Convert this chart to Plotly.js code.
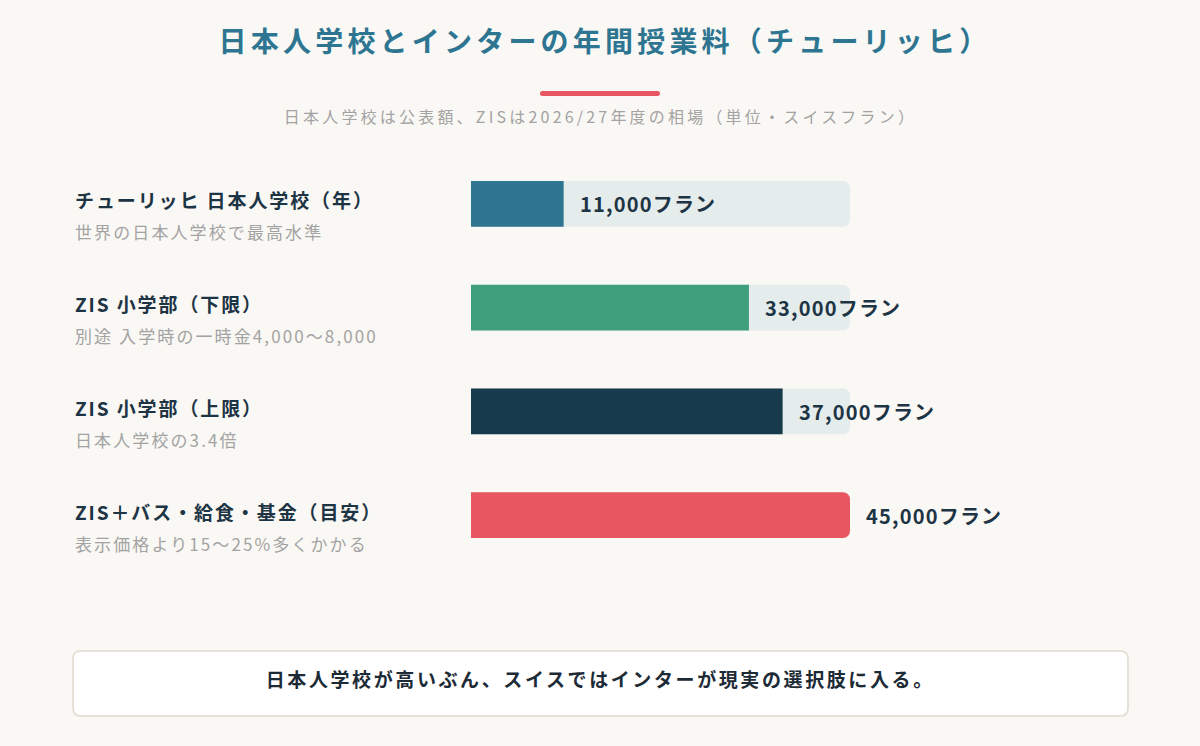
<!DOCTYPE html>
<html>
<head>
<meta charset="utf-8">
<script src="https://cdn.plot.ly/plotly-3.0.1.min.js"></script>
<style>
html,body{margin:0;padding:0;background:#faf8f4;}
#chart{width:1200px;height:746px;}
</style>
</head>
<body>
<div id="chart"></div>
<script>
// ---- data ----
const categories = ['チューリッヒ 日本人学校（年）', 'ZIS 小学部（下限）', 'ZIS 小学部（上限）', 'ZIS＋バス・給食・基金（目安）'];
const notes = ['世界の日本人学校で最高水準', '別途 入学時の一時金4,000〜8,000', '日本人学校の3.4倍', '表示価格より15〜25%多くかかる'];
const values = [11000, 33000, 37000, 45000];
const trackMax = 45000;
const unit = 'フラン';
const barColors = ['#2e7592', '#3f9e7c', '#173a4d', '#e85761'];
const titleText = '日本人学校とインターの年間授業料（チューリッヒ）';
const subtitleText = '日本人学校は公表額、ZISは2026/27年度の相場（単位・スイスフラン）';
const footerText = '日本人学校が高いぶん、スイスではインターが現実の選択肢に入る。';

// ---- layout helpers ----
const W = 1200, H = 746;
const px = x => x / W;
const py = y => 1 - y / H;
const FONT = '"Noto Sans CJK JP", "Noto Sans", sans-serif';

function roundRectPath(x0, y0, x1, y1, r) {
  const X = v => px(v).toFixed(5), Y = v => py(v).toFixed(5);
  return 'M' + X(x0 + r) + ',' + Y(y0) +
    ' L' + X(x1 - r) + ',' + Y(y0) +
    ' Q' + X(x1) + ',' + Y(y0) + ' ' + X(x1) + ',' + Y(y0 + r) +
    ' L' + X(x1) + ',' + Y(y1 - r) +
    ' Q' + X(x1) + ',' + Y(y1) + ' ' + X(x1 - r) + ',' + Y(y1) +
    ' L' + X(x0 + r) + ',' + Y(y1) +
    ' Q' + X(x0) + ',' + Y(y1) + ' ' + X(x0) + ',' + Y(y1 - r) +
    ' L' + X(x0) + ',' + Y(y0 + r) +
    ' Q' + X(x0) + ',' + Y(y0) + ' ' + X(x0 + r) + ',' + Y(y0) + ' Z';
}

const trackTrace = {
  type: 'bar', orientation: 'h',
  y: categories, x: categories.map(() => trackMax),
  marker: { color: '#e5ecec', cornerradius: 7 },
  width: 0.44, hoverinfo: 'skip', showlegend: false
};
const valueTrace = {
  type: 'bar', orientation: 'h',
  y: categories, x: values,
  marker: { color: barColors, cornerradius: 7 },
  width: 0.44, hoverinfo: 'skip', showlegend: false
};

const annotations = [];
const spacings = [];
function addAnn(a, sp) { annotations.push(a); spacings.push(sp); }

categories.forEach((c, i) => {
  addAnn({
    xref: 'paper', yref: 'y', x: px(73), y: c, xanchor: 'left', yanchor: 'middle', align: 'left',
    yshift: 4, text: c, showarrow: false,
    font: { family: FONT, size: 19, color: '#1d3444', weight: 700 }
  }, 1.9);
  addAnn({
    xref: 'paper', yref: 'y', x: px(73), y: c, xanchor: 'left', yanchor: 'middle', align: 'left',
    yshift: -28, text: notes[i], showarrow: false,
    font: { family: FONT, size: 17, color: '#a3a3a3' }
  }, 2.1);
  addAnn({
    xref: 'x', yref: 'y', x: values[i], y: c, xanchor: 'left', yanchor: 'middle', align: 'left',
    xshift: 14, text: values[i].toLocaleString('en-US') + unit, showarrow: false,
    font: { family: FONT, size: 20, color: '#1d3444', weight: 700 }
  }, 1.2);
});
addAnn({
  xref: 'paper', yref: 'paper', x: 0.5, y: py(116), xanchor: 'center', yanchor: 'middle',
  text: subtitleText, showarrow: false,
  font: { family: FONT, size: 16, color: '#a3a3a3' }
}, 3.2);
addAnn({
  xref: 'paper', yref: 'paper', x: 0.5, y: py(678), xanchor: 'center', yanchor: 'middle',
  text: footerText, showarrow: false,
  font: { family: FONT, size: 19, color: '#1d2b36', weight: 700 }
}, 2.6);

const shapes = [
  { type: 'path', xref: 'paper', yref: 'paper', path: roundRectPath(540, 91, 660, 96, 2.5),
    fillcolor: '#e85761', line: { width: 0 } },
  { type: 'path', xref: 'paper', yref: 'paper', path: roundRectPath(73, 651, 1128, 716, 8),
    fillcolor: '#ffffff', line: { color: '#e6e1d8', width: 2 } }
];

const layout = {
  width: W, height: H,
  paper_bgcolor: '#faf8f4', plot_bgcolor: 'rgba(0,0,0,0)',
  margin: { l: 0, r: 0, t: 0, b: 0 },
  barmode: 'overlay',
  showlegend: false,
  title: {
    text: titleText, x: px(605), xanchor: 'center', xref: 'paper',
    y: py(42), yref: 'container', yanchor: 'middle',
    font: { family: FONT, size: 28, color: '#2e7592', weight: 700 }
  },
  xaxis: {
    domain: [px(471), px(850)], range: [0, trackMax],
    showgrid: false, zeroline: false, showticklabels: false, showline: false, fixedrange: true
  },
  yaxis: {
    domain: [py(567), py(152)], type: 'category', autorange: 'reversed',
    showgrid: false, zeroline: false, showticklabels: false, showline: false, fixedrange: true
  },
  annotations: annotations,
  shapes: shapes
};

Plotly.newPlot('chart', [trackTrace, valueTrace], layout, { displayModeBar: false, staticPlot: true })
  .then(gd => {
    gd.querySelectorAll('.annotation').forEach(g => {
      const idx = +g.getAttribute('data-index');
      const t = g.querySelector('text');
      if (t && spacings[idx] != null) t.style.letterSpacing = spacings[idx] + 'px';
    });
    const title = gd.querySelector('.gtitle');
    if (title) title.style.letterSpacing = '4.2px';
  });
</script>
</body>
</html>
